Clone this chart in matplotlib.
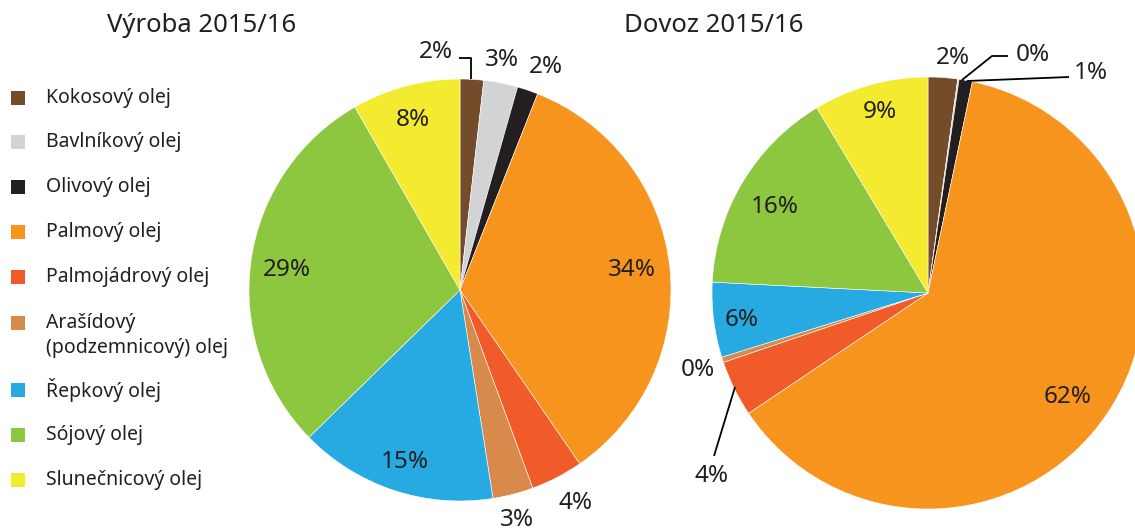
import numpy as np
import matplotlib.pyplot as plt
from matplotlib.patches import Rectangle

plt.rcParams['font.family'] = ['Noto Sans', 'DejaVu Sans']

# data
oils = ['Kokosový olej', 'Bavlníkový olej', 'Olivový olej', 'Palmový olej',
        'Palmojádrový olej', 'Arašídový\n(podzemnicový) olej', 'Řepkový olej',
        'Sójový olej', 'Slunečnicový olej']
vyroba = [1.8, 2.6, 1.6, 34.4, 4.0, 3.1, 15.2, 29.0, 8.3]
dovoz = [2.2, 0.1, 1.0, 62.3, 4.2, 0.4, 5.6, 15.6, 8.6]
colors = ['#754C29', '#D1D3D4', '#231F20', '#F7941D', '#F15A29',
          '#D8894C', '#27AAE1', '#8DC63F', '#F4EA2F']

W, H = 1135, 530
fig = plt.figure(figsize=(W/100., H/100.), dpi=100)
ax = fig.add_axes([0, 0, 1, 1])

def Y(y):
    # image pixel row -> axes y
    return H - y

# pies (start at top, clockwise)
for vals, cen, r in [(vyroba, (460, 290), 211), (dovoz, (928, 293), 216)]:
    ax.pie(vals, colors=colors, startangle=90, counterclock=False,
           center=(cen[0], Y(cen[1])), radius=r, frame=True,
           wedgeprops=dict(edgecolor='white', linewidth=0.4))
ax.set_xlim(0, W)
ax.set_ylim(0, H)
ax.set_aspect('equal')
ax.axis('off')

# percent labels (pixel positions)
pos_vyroba = [(436, 52), (502, 60), (546, 67), (632, 270), (576, 503),
              (517, 520), (405, 462), (287, 270), (413, 120)]
pos_dovoz = [(953, 58), (1033, 55), (1091, 73), (1068, 397), (712, 476),
             (698, 370), (742, 320), (775, 207), (880, 112)]
for vals, pos in [(vyroba, pos_vyroba), (dovoz, pos_dovoz)]:
    for v, (x, y) in zip(vals, pos):
        ax.text(x, Y(y), '%d%%' % int(round(v)), ha='center', va='center',
                fontsize=17.5, color='#231F20')

# leader lines
lc = dict(color='black', lw=1.3, solid_capstyle='butt')
ax.plot([459, 471, 471], [Y(58), Y(58), Y(79)], **lc)
ax.plot([962, 992, 1008], [Y(80), Y(56), Y(56)], **lc)
ax.plot([967, 1069], [Y(81), Y(77)], **lc)
ax.plot([735, 714], [Y(387), Y(456)], **lc)

# titles
ax.text(202, Y(25), 'Výroba 2015/16', ha='center', va='center', fontsize=18.5,
        color='#231F20')
ax.text(714, Y(25), 'Dovoz 2015/16', ha='center', va='center', fontsize=18.5,
        color='#231F20')

# legend
leg_y = [98, 142, 187, 232, 277, 323, 390, 435, 480]
for name, c, y in zip(oils, colors, leg_y):
    ax.add_patch(Rectangle((11, Y(y) - 7), 14, 14, color=c, lw=0))
    if '\n' in name:
        ax.text(46, Y(y) + 10, name, ha='left', va='top', fontsize=14,
                color='#231F20', linespacing=1.35)
    else:
        ax.text(46, Y(y), name, ha='left', va='center', fontsize=14,
                color='#231F20')

fig.savefig('out.png', dpi=100)
